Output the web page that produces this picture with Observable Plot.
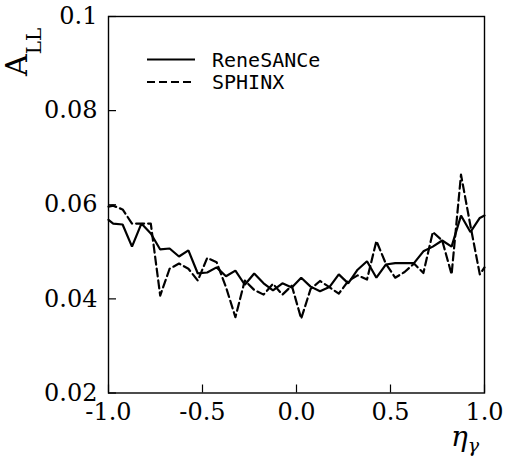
<!DOCTYPE html>
<html><head><meta charset="utf-8">
<script src="https://cdn.jsdelivr.net/npm/d3@7"></script>
<script src="https://cdn.jsdelivr.net/npm/@observablehq/plot@0.6"></script>
<style>body{margin:0;background:#fff}</style>
</head><body><div id="chart"></div>
<script>
const eta = [-1.0, -0.975, -0.925, -0.875, -0.825, -0.775, -0.725, -0.675, -0.625, -0.575, -0.525, -0.475, -0.425, -0.375, -0.325, -0.275, -0.225, -0.175, -0.125, -0.075, -0.025, 0.025, 0.075, 0.125, 0.175, 0.225, 0.275, 0.325, 0.375, 0.425, 0.475, 0.525, 0.575, 0.625, 0.675, 0.725, 0.775, 0.825, 0.875, 0.925, 0.975, 1.0];
const reneSANCe = [0.0568, 0.0560, 0.0558, 0.0511, 0.0560, 0.0539, 0.0505, 0.0507, 0.0490, 0.0503, 0.0454, 0.0456, 0.0467, 0.0448, 0.0460, 0.0430, 0.0454, 0.0433, 0.0418, 0.0433, 0.0424, 0.0445, 0.0426, 0.0416, 0.0425, 0.0452, 0.0433, 0.0462, 0.0480, 0.0445, 0.0473, 0.0476, 0.0476, 0.0476, 0.0501, 0.0511, 0.0524, 0.0511, 0.0577, 0.0542, 0.0572, 0.0577];
const sphinx = [0.0596, 0.0598, 0.0590, 0.0560, 0.0560, 0.0560, 0.0407, 0.0464, 0.0475, 0.0464, 0.0439, 0.0487, 0.0478, 0.0425, 0.0361, 0.0439, 0.0419, 0.0409, 0.0432, 0.0409, 0.0428, 0.0358, 0.0421, 0.0438, 0.0425, 0.0411, 0.0438, 0.0450, 0.0441, 0.0523, 0.0475, 0.0445, 0.0457, 0.0475, 0.0455, 0.0542, 0.0524, 0.0452, 0.0664, 0.0556, 0.0452, 0.0467];
const seriesNames = ["ReneSANCe", "SPHINX"];
const xTicks = [-1, -0.5, 0, 0.5, 1];
const xTickLabels = ["-1.0", "-0.5", "0.0", "0.5", "1.0"];
const yTicks = [0.02, 0.04, 0.06, 0.08, 0.1];
const yTickLabels = ["0.02", "0.04", "0.06", "0.08", "0.1"];

const rows = [];
eta.forEach((x, i) => {
  rows.push({series: seriesNames[0], x, y: reneSANCe[i]});
  rows.push({series: seriesNames[1], x, y: sphinx[i]});
});
const xLab = new Map(xTicks.map((t, i) => [t, xTickLabels[i]]));
const yLab = new Map(yTicks.map((t, i) => [t, yTickLabels[i]]));

const W = 506, H = 460, mL = 108, mR = 22, mT = 16, mB = 67.5;
const plotW = W - mL - mR, plotH = H - mT - mB, tickLen = 8;
const serif = "'DejaVu Serif', serif";
const chart = Plot.plot({
  width: W, height: H,
  marginLeft: mL, marginRight: mR, marginTop: mT, marginBottom: mB,
  style: {fontFamily: serif, fontSize: "24px", color: "black", background: "white", overflow: "visible"},
  x: {domain: [-1, 1]},
  y: {domain: [0.02, 0.1]},
  marks: [
    Plot.axisX({ticks: xTicks, tickFormat: d => xLab.get(d), tickSize: 0, tickPadding: 10, label: null, fontSize: 24}),
    Plot.axisY({ticks: yTicks, tickFormat: d => yLab.get(d), tickSize: 0, tickPadding: 11, label: null, fontSize: 24}),
    Plot.tickX(xTicks, {x: d => d, insetTop: plotH - tickLen, stroke: "black", strokeWidth: 1.2}),
    Plot.tickY(yTicks, {y: d => d, insetRight: plotW - tickLen, stroke: "black", strokeWidth: 1.2}),
    Plot.line(rows.filter(d => d.series === seriesNames[0]), {x: "x", y: "y", stroke: "black", strokeWidth: 2.2, strokeLinejoin: "miter"}),
    Plot.line(rows.filter(d => d.series === seriesNames[1]), {x: "x", y: "y", stroke: "black", strokeWidth: 2.2, strokeDasharray: "8,4"}),
    Plot.frame({stroke: "black", strokeWidth: 1.4})
  ]
});
document.getElementById("chart").appendChild(chart);

const svg = d3.select(chart);
svg.selectAll("text").style("font-family", serif).style("font-variant", "normal");
// y-axis label A_LL
const yl = svg.append("text")
  .attr("transform", "translate(27,76) rotate(-90)").attr("text-anchor", "start")
  .style("font-family", serif).attr("font-size", 30).attr("fill", "black");
yl.append("tspan").text("A");
yl.append("tspan").attr("font-size", 20).attr("dy", 14).text("LL");
// x-axis label eta_gamma
const xl = svg.append("text")
  .attr("x", 451).attr("y", 446).attr("text-anchor", "start")
  .style("font-family", serif).attr("font-style", "italic").attr("font-size", 28).attr("fill", "black");
xl.append("tspan").text("η");
xl.append("tspan").attr("font-size", 19).attr("dy", 6).text("γ");
// legend
const lg = svg.append("g").style("font-family", "'DejaVu Sans Mono', monospace").attr("font-size", 20)
  .attr("fill", "black").attr("text-anchor", "start");
[[59.5, null, 66.5], [82, "8,4", 89]].forEach(([ly, dash, ty], i) => {
  lg.append("line").attr("x1", 147).attr("x2", 195).attr("y1", ly).attr("y2", ly)
    .attr("stroke", "black").attr("stroke-width", 2.2).attr("stroke-dasharray", dash);
  lg.append("text").attr("x", 212).attr("y", ty).text(seriesNames[i]);
});
</script>
</body></html>
